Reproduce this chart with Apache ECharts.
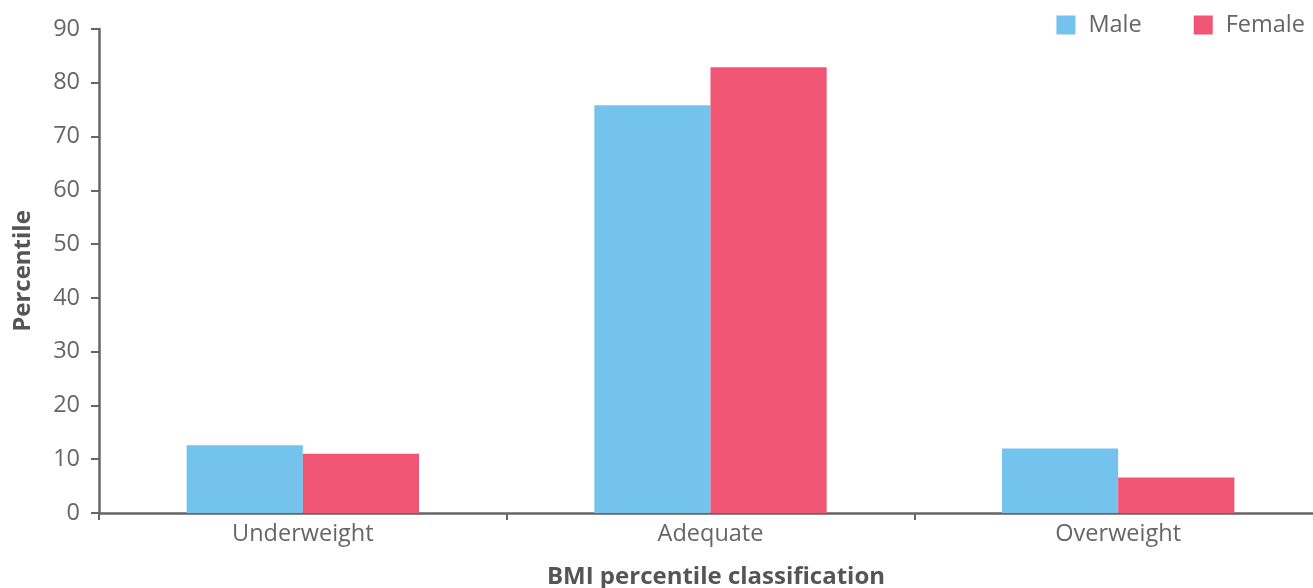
<!DOCTYPE html>
<html><head><meta charset="utf-8">
<script src="https://cdn.jsdelivr.net/npm/echarts@6/dist/echarts.min.js"></script>
<style>html,body{margin:0;padding:0;background:#fff}#c{width:1313px;height:588px}</style>
</head><body><div id="c"></div>
<script>
var categories = ['Underweight', 'Adequate', 'Overweight'];
var maleValues = [12.6, 75.8, 12.0];
var femaleValues = [11.0, 82.9, 6.6];
var yTicks = [0, 10, 20, 30, 40, 50, 60, 70, 80, 90];

var chart = echarts.init(document.getElementById('c'), null, {renderer: 'canvas'});
var font = '"Open Sans", "Noto Sans", sans-serif';
var axisColor = '#666666';
chart.setOption({
  animation: false,
  textStyle: {fontFamily: font},
  legend: {
    top: 8, right: 3, itemWidth: 19, itemHeight: 19, itemGap: 52,
    icon: 'rect',
    textStyle: {fontFamily: font, fontSize: 23.5, color: '#666', padding: [0, 0, 0, 8]},
    data: ['Male', 'Female']
  },
  grid: {left: 99, right: -9, top: 29, bottom: 75, containLabel: false, outerBoundsMode: 'none'},
  xAxis: {
    type: 'category', data: categories,
    name: 'BMI percentile classification', nameLocation: 'middle', nameGap: 52,
    nameTextStyle: {fontFamily: font, fontSize: 24, fontWeight: 'bold', color: '#555', padding: [0, 0, 0, 11]},
    axisLine: {lineStyle: {color: axisColor, width: 2.5}},
    axisTick: {show: true, length: 7, lineStyle: {color: axisColor, width: 2}},
    axisLabel: {fontFamily: font, fontSize: 23.5, color: '#666', margin: 9}
  },
  yAxis: {
    type: 'value', min: 0, max: 90, interval: 10,
    name: 'Percentile', nameLocation: 'middle', nameGap: 64,
    nameTextStyle: {fontFamily: font, fontSize: 24, fontWeight: 'bold', color: '#555'},
    splitLine: {show: false},
    axisLine: {show: true, lineStyle: {color: axisColor, width: 2.5}},
    axisTick: {show: true, length: 8, lineStyle: {color: axisColor, width: 2}},
    axisLabel: {fontFamily: font, fontSize: 23.5, color: '#666', margin: 19,
      formatter: function (v) { return yTicks.indexOf(v) >= 0 ? String(v) : ''; }}
  },
  series: [
    {name: 'Male', type: 'bar', data: maleValues, barGap: '0%', barCategoryGap: '43%',
      itemStyle: {color: '#74C3EC'}},
    {name: 'Female', type: 'bar', data: femaleValues,
      itemStyle: {color: '#F05574'}}
  ]
});
</script></body></html>
